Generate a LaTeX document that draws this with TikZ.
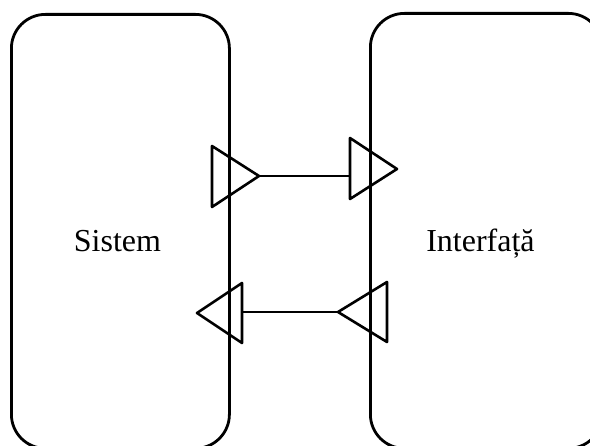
\documentclass[tikz,border=0pt]{standalone}
\usepackage{fontspec}
\setmainfont{Liberation Serif}

\tikzset{
  bloc/.style={draw, line width=2.8pt, rounded corners=34pt, inner sep=0pt},
  eticheta/.style={font=\fontsize{32}{38}\selectfont, anchor=base},
  port/.style={draw, line width=2.6pt, line join=round},
  legatura/.style={line width=2.6pt}
}

\begin{document}
\begin{tikzpicture}[x=1pt,y=-1pt]

  \clip (0,0) rectangle (590,446);

  % Blocks
  \node [bloc, anchor=north west, minimum width=218pt, minimum height=434pt] (sistem) at (10,13) {};
  \node [bloc, anchor=north west, minimum width=232pt, minimum height=435pt] (interfata) at (369,12) {};

  \node [eticheta] (lblSistem) at (117.5,252) {Sistem};
  \node [eticheta] (lblInterfata) at (480.5,252) {Interfață};

  % Ports, upper link (Sistem -> Interfata)
  \coordinate (A1) at (212,146);
  \coordinate (A2) at (212,207);
  \coordinate (A3) at (259,176);
  \coordinate (B1) at (350,138);
  \coordinate (B2) at (350,199);
  \coordinate (B3) at (397,169);
  \coordinate (B0) at (350,176);

  % Ports, lower link (Interfata -> Sistem)
  \coordinate (C1) at (242,283);
  \coordinate (C2) at (242,343);
  \coordinate (C3) at (197,313);
  \coordinate (C0) at (242,312);
  \coordinate (D1) at (387,282);
  \coordinate (D2) at (387,342);
  \coordinate (D3) at (338,312);

  % Draw ports
  \draw [port] (A1) -- (A3) -- (A2) -- cycle;
  \draw [port] (B1) -- (B3) -- (B2) -- cycle;
  \draw [port] (C1) -- (C3) -- (C2) -- cycle;
  \draw [port] (D1) -- (D3) -- (D2) -- cycle;

  % Draw links
  \draw [legatura] (A3) -- (B0);
  \draw [legatura] (D3) -- (C0);

\end{tikzpicture}
\end{document}
